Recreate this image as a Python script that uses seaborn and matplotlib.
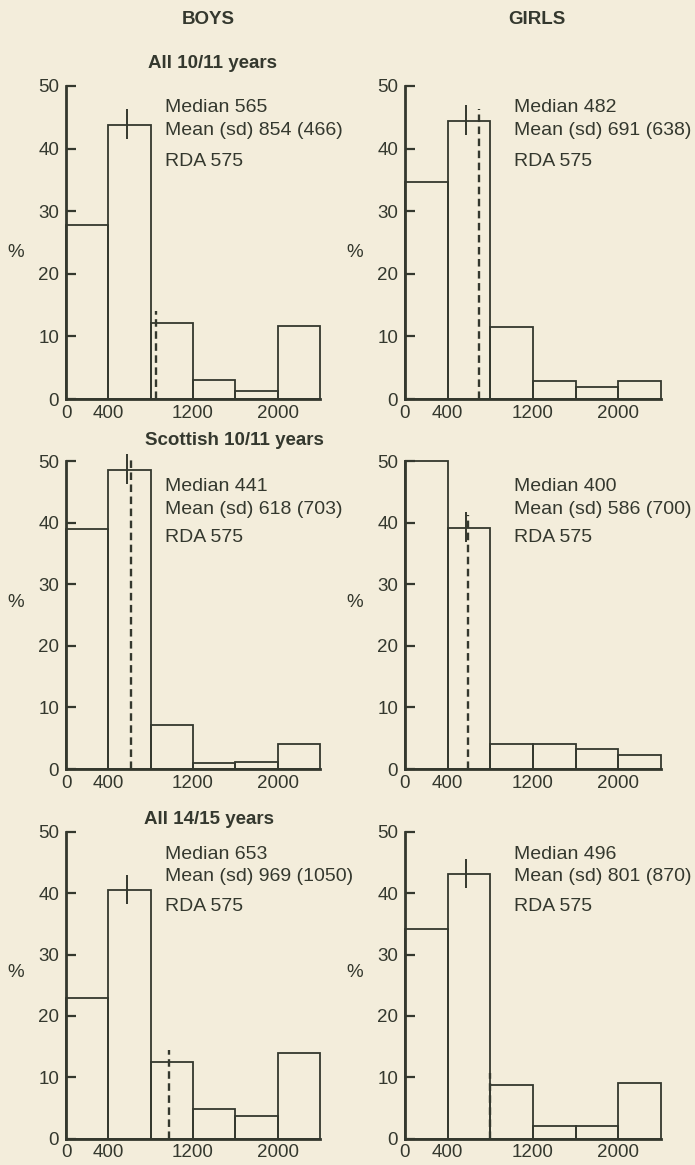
import numpy as np
import pandas as pd
import matplotlib
matplotlib.use("Agg")
import matplotlib.pyplot as plt
import seaborn as sns

# ---- data -------------------------------------------------------------
bin_edges = [0, 400, 800, 1200, 1600, 2000, 2400]
x_ticks = [0, 400, 1200, 2000]
y_ticks = [0, 10, 20, 30, 40, 50]

column_headers = ["BOYS", "GIRLS"]
row_titles = ["All 10/11 years", "Scottish 10/11 years", "All 14/15 years"]

# percentage of children in each intake band
boys_all_1011 = [27.8, 43.8, 12.1, 3.0, 1.2, 11.7]
girls_all_1011 = [34.6, 44.4, 11.5, 2.9, 1.9, 2.9]
boys_scot_1011 = [38.9, 48.6, 7.2, 1.0, 1.1, 4.0]
girls_scot_1011 = [50.0, 39.2, 4.1, 4.1, 3.2, 2.2]
boys_all_1415 = [22.9, 40.5, 12.5, 4.8, 3.6, 13.9]
girls_all_1415 = [34.1, 43.1, 8.7, 2.1, 2.1, 9.0]

medians = [[565, 482], [441, 400], [653, 496]]
means = [[854, 691], [618, 586], [969, 801]]
sds = [[466, 638], [703, 700], [1050, 870]]
rda = 575

panels = [[boys_all_1011, girls_all_1011],
          [boys_scot_1011, girls_scot_1011],
          [boys_all_1415, girls_all_1415]]

# ---- style ------------------------------------------------------------
paper = "#f3eddb"
ink = "#34382e"

sns.set_theme(style="white")
plt.rcParams["font.family"] = ["Liberation Sans", "DejaVu Sans"]
plt.rcParams["text.color"] = ink
plt.rcParams["axes.labelcolor"] = ink
plt.rcParams["xtick.color"] = ink
plt.rcParams["ytick.color"] = ink

W, H = 695, 1165
fig = plt.figure(figsize=(W / 100, H / 100), dpi=100, facecolor=paper)

# axes placement in pixels: (left, right) per column, (top, bottom) per row
col_px = [(66, 320), (405, 661)]
row_px = [(86, 399), (461, 769), (832, 1138.5)]
text_y = [(0.930, 0.857, 0.759), (0.916, 0.843, 0.753), (0.925, 0.854, 0.757)]
text_x = [0.39, 0.425]
pct_y = [0.468, 0.54, 0.54]

centers = [(a + b) / 2 for a, b in zip(bin_edges[:-1], bin_edges[1:])]

for r in range(3):
    for c in range(2):
        l, rt = col_px[c]
        t, b = row_px[r]
        ax = fig.add_axes([l / W, 1 - b / H, (rt - l) / W, (b - t) / H])
        ax.set_facecolor("none")
        values = panels[r][c]
        df = pd.DataFrame({"intake": centers, "pct": values})
        sns.histplot(data=df, x="intake", weights="pct", bins=bin_edges,
                     fill=False, color=ink, linewidth=1.3, ax=ax)
        for p in ax.patches:
            p.set_clip_on(False)

        ax.set_xlim(0, 2400)
        ax.set_ylim(0, 50)
        ax.set_xticks(x_ticks)
        ax.set_yticks(y_ticks)
        ax.set_xlabel("")
        ax.set_ylabel("")
        for s in ["top", "right"]:
            ax.spines[s].set_visible(False)
        for s in ["left", "bottom"]:
            ax.spines[s].set_linewidth(2.0)
            ax.spines[s].set_color(ink)
        ax.tick_params(axis="y", left=True, direction="in", length=7.5,
                       width=1.6, pad=5, labelsize=13.5)
        ax.tick_params(axis="x", bottom=True, length=0, pad=4, labelsize=13.5)

        # RDA marker on the bar that contains it
        k = np.searchsorted(bin_edges, rda, side="right") - 1
        h = values[k]
        ax.plot([rda, rda], [h - 2.3, h + 2.5], color=ink, lw=1.4,
                clip_on=False, solid_capstyle="butt")
        # mean as a dashed line up to just above its bar
        m = means[r][c]
        k = np.searchsorted(bin_edges, m, side="right") - 1
        h = values[k]
        ax.plot([m, m], [0, h + 2], color=ink, lw=1.7,
                ls=(0, (3.2, 1.9)), clip_on=False)

        ty = text_y[r]
        tx = text_x[c]
        ax.text(tx, ty[0], f"Median {medians[r][c]}", transform=ax.transAxes,
                fontsize=14, va="center", ha="left", color=ink)
        ax.text(tx, ty[1], f"Mean (sd) {means[r][c]} ({sds[r][c]})",
                transform=ax.transAxes, fontsize=14, va="center", ha="left",
                color=ink)
        ax.text(tx, ty[2], f"RDA {rda}", transform=ax.transAxes,
                fontsize=14, va="center", ha="left", color=ink)
        ax.text(-0.197, pct_y[r], "%", transform=ax.transAxes, fontsize=13.5,
                va="center", ha="center", color=ink)

# column headers and row titles
fig.text(208 / W, 1 - 20 / H, column_headers[0], ha="center", va="center",
         fontsize=13.5, fontweight="bold", color=ink)
fig.text(537 / W, 1 - 20 / H, column_headers[1], ha="center", va="center",
         fontsize=13.5, fontweight="bold", color=ink)
title_pos = [(213, 63), (234, 441), (209, 819)]
for title, (x, y) in zip(row_titles, title_pos):
    fig.text(x / W, 1 - y / H, title, ha="center", va="center",
             fontsize=13.5, fontweight="bold", color=ink)

fig.savefig("out.png", dpi=100, facecolor=paper)
